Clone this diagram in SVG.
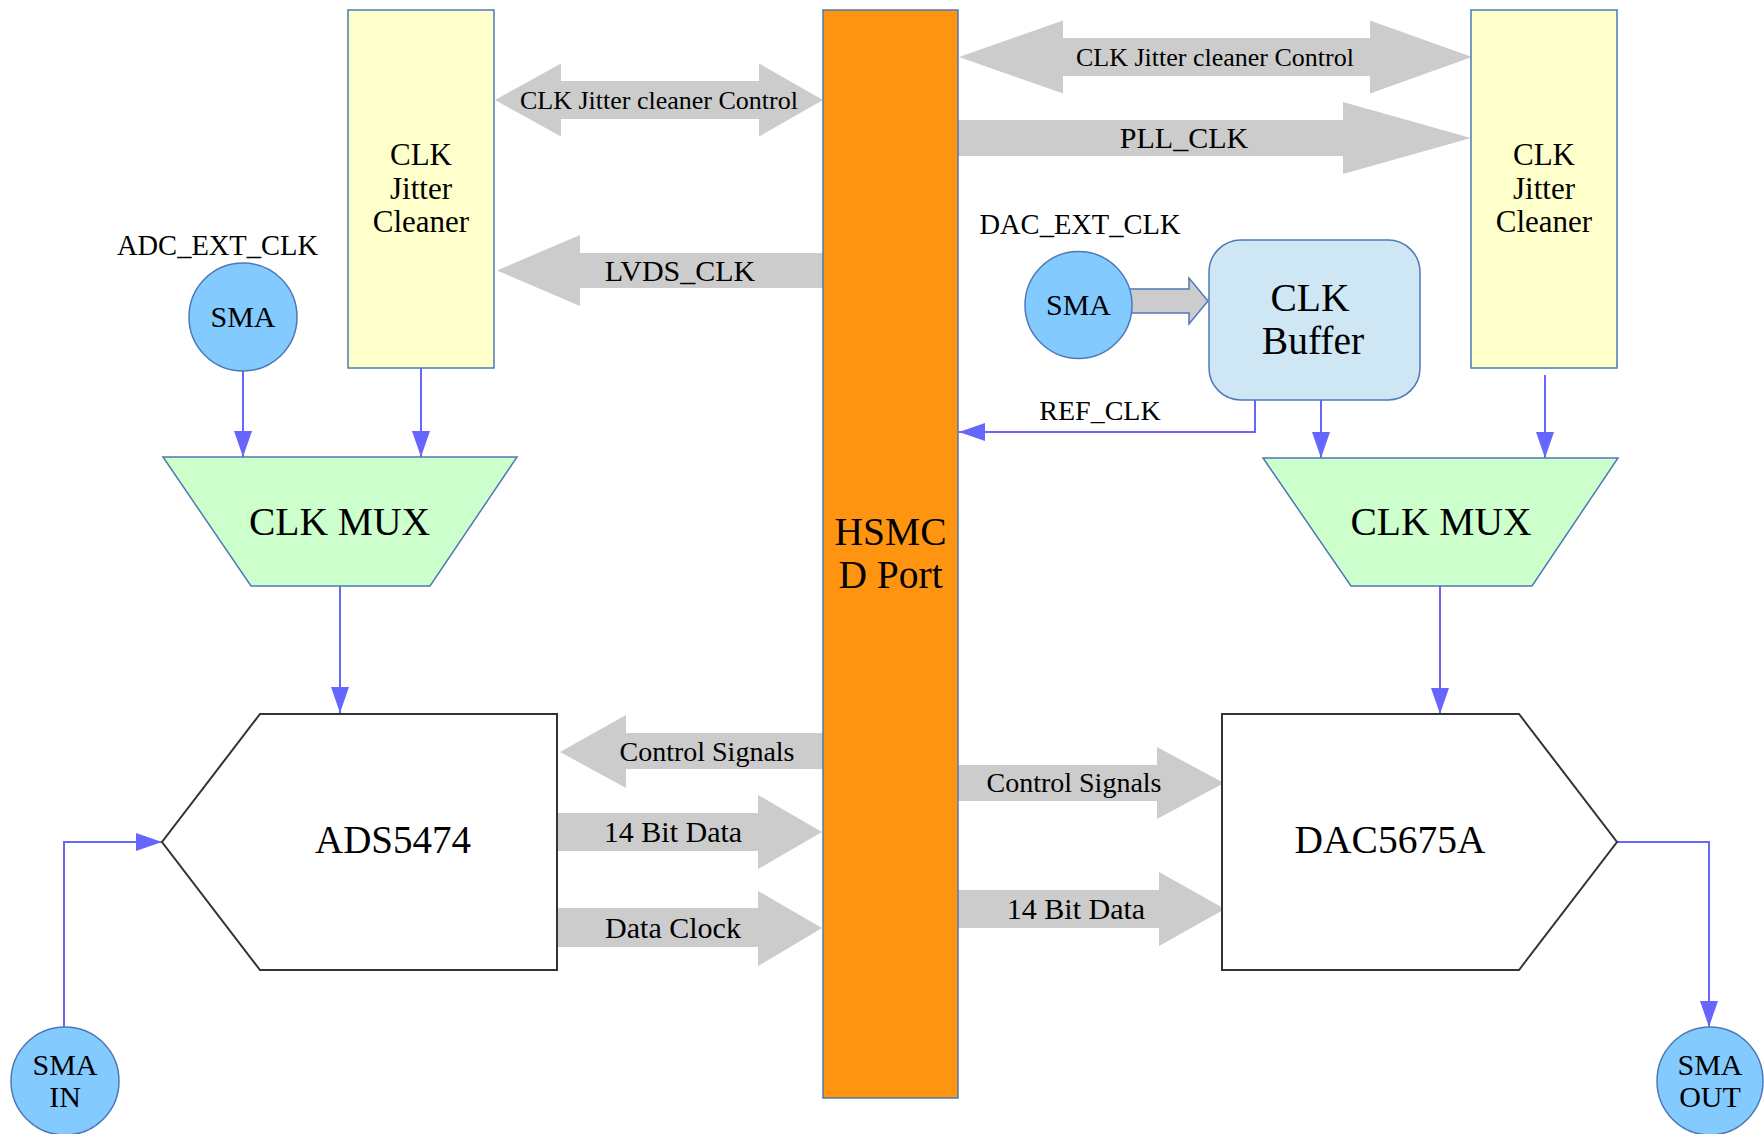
<svg xmlns="http://www.w3.org/2000/svg" width="1764" height="1134" viewBox="0 0 1764 1134">
<defs>
<style>
text{font-family:"Liberation Serif","Times New Roman",serif;fill:#000;text-anchor:middle}
.node{stroke:#4E79B5;stroke-width:1.5}
.cjc{fill:#FFFFCC}
.mux{fill:#CCFFCC}
.sma{fill:#83CAFF}
.buf{fill:#CFE7F5}
.chip{fill:#FFFFFF;stroke:#333333;stroke-width:2}
.bus{fill:#CCCCCC;stroke:none}
.wire{fill:none;stroke:#6666FF;stroke-width:2;marker-end:url(#ah)}
</style>
<marker id="ah" markerUnits="userSpaceOnUse" markerWidth="27" markerHeight="18" refX="26" refY="9" orient="auto">
<path d="M0,0 L26,9 L0,18 Z" fill="#6666FF"/>
</marker>
</defs>
<rect width="1764" height="1134" fill="#FFFFFF"/>

<g id="connectors">
<polygon class="bus" points="495,100 561,63.5 561,81 759,81 759,63.5 823,100 759,136.5 759,119 561,119 561,136.5"/>
<polygon class="bus" points="823,253 580,253 580,235 497,270.5 580,306 580,288 823,288"/>
<polygon class="bus" points="959,57 1063,20.5 1063,38 1370,38 1370,20.5 1472,57 1370,93.5 1370,76 1063,76 1063,93.5"/>
<polygon class="bus" points="958,120 1343,120 1343,102 1471,138 1343,174 1343,156 958,156"/>
<polygon points="1128,289 1189,289 1189,278 1208,301 1189,324 1189,313 1128,313" fill="#CCCCCC" stroke="#4E79B5" stroke-width="1.5"/>
<polygon class="bus" points="823,733 626,733 626,715 560,752 626,788 626,769 823,769"/>
<polygon class="bus" points="557,813 758,813 758,795 822,832 758,869 758,851 557,851"/>
<polygon class="bus" points="557,908 758,908 758,891 822,928 758,966 758,947 557,947"/>
<polygon class="bus" points="958,765 1157,765 1157,747 1224,783 1157,819 1157,801 958,801"/>
<polygon class="bus" points="958,890 1159,890 1159,872 1225,909 1159,946 1159,928 958,928"/>

<text x="659" y="108.6" font-size="26">CLK Jitter cleaner Control</text>
<text x="680" y="280.5" font-size="30">LVDS_CLK</text>
<text x="1215" y="65.6" font-size="26">CLK Jitter cleaner Control</text>
<text x="1184" y="148" font-size="30">PLL_CLK</text>
<text x="707" y="761.3" font-size="28">Control Signals</text>
<text x="673" y="842" font-size="30">14 Bit Data</text>
<text x="673" y="938" font-size="30">Data Clock</text>
<text x="1074" y="792.3" font-size="28">Control Signals</text>
<text x="1076" y="919" font-size="30">14 Bit Data</text>

<path class="wire" d="M243,370 L243,457"/>
<path class="wire" d="M421,368 L421,457"/>
<path class="wire" d="M340,586 L340,713"/>
<path class="wire" d="M64,1027 L64,842 L162,842"/>
<path class="wire" d="M1255,400 L1255,432 L959,432"/>
<path class="wire" d="M1321,400 L1321,458"/>
<path class="wire" d="M1545,375 L1545,458"/>
<path class="wire" d="M1440,586 L1440,714"/>
<path class="wire" d="M1617,842 L1709,842 L1709,1027"/>
<text x="1100" y="420" font-size="28">REF_CLK</text>
</g>

<g id="hsmc">
<rect class="node" x="823" y="10" width="135" height="1088" fill="#FF9411"/>
<text x="890.5" y="545" font-size="39.5">HSMC</text>
<text x="890.5" y="588" font-size="39.5">D Port</text>
</g>

<g id="cjc-left">
<rect class="node cjc" x="348" y="10" width="146" height="358"/>
<text x="421" y="165" font-size="31">CLK</text>
<text x="421" y="199" font-size="31">Jitter</text>
<text x="421" y="232" font-size="31">Cleaner</text>
</g>

<g id="cjc-right">
<rect class="node cjc" x="1471" y="10" width="146" height="358"/>
<text x="1544" y="165" font-size="31">CLK</text>
<text x="1544" y="199" font-size="31">Jitter</text>
<text x="1544" y="232" font-size="31">Cleaner</text>
</g>

<g id="sma-adc">
<text x="217.5" y="254.5" font-size="28.5">ADC_EXT_CLK</text>
<circle class="node sma" cx="243" cy="317" r="54"/>
<text x="243" y="327" font-size="30">SMA</text>
</g>

<g id="sma-dac">
<text x="1080" y="234" font-size="28.5">DAC_EXT_CLK</text>
<circle class="node sma" cx="1078.5" cy="305" r="53.5"/>
<text x="1078.5" y="315" font-size="30">SMA</text>
</g>

<g id="clk-buffer">
<rect class="node buf" x="1209" y="240" width="211" height="160" rx="32" ry="32"/>
<text x="1310" y="311" font-size="39.5">CLK</text>
<text x="1313" y="354" font-size="39.5">Buffer</text>
</g>

<g id="mux-left">
<polygon class="node mux" points="163,457 517,457 430,586 251,586"/>
<text x="339.5" y="535" font-size="39.5">CLK MUX</text>
</g>

<g id="mux-right">
<polygon class="node mux" points="1263,458 1618,458 1532,586 1351,586"/>
<text x="1441" y="535" font-size="39.5">CLK MUX</text>
</g>

<g id="ads5474">
<polygon class="chip" points="260,714 557,714 557,970 260,970 162,842"/>
<text x="393" y="853" font-size="39">ADS5474</text>
</g>

<g id="dac5675a">
<polygon class="chip" points="1222,714 1519,714 1617,842 1519,970 1222,970"/>
<text x="1390" y="853" font-size="39.5">DAC5675A</text>
</g>

<g id="sma-in">
<ellipse class="node sma" cx="65" cy="1081" rx="54" ry="54"/>
<text x="65" y="1075" font-size="30">SMA</text>
<text x="65" y="1107" font-size="30">IN</text>
</g>

<g id="sma-out">
<ellipse class="node sma" cx="1710" cy="1081" rx="53" ry="54"/>
<text x="1710" y="1075" font-size="30">SMA</text>
<text x="1710" y="1107" font-size="30">OUT</text>
</g>
</svg>
